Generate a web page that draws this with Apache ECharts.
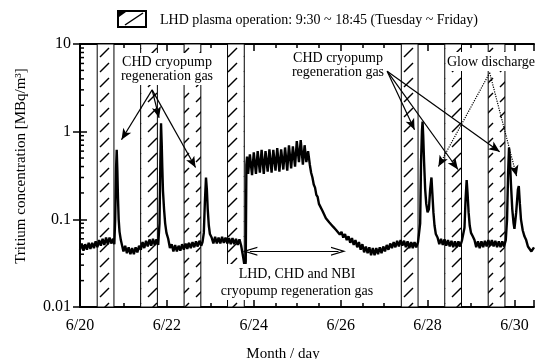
<!DOCTYPE html>
<html>
<head>
<meta charset="utf-8">
<script src="https://cdn.jsdelivr.net/npm/echarts@6/dist/echarts.min.js"></script>
<style>
  html, body { margin: 0; padding: 0; background: #fff; }
  #chart { width: 537px; height: 359px; }
</style>
</head>
<body>
<div id="chart"></div>
<script>
  // days counted from 6/20 00:00
  const plasmaDays = [0, 1, 2, 3, 7, 8, 9]; // Tuesday ~ Friday
  const plasmaHours = [9.5, 18.75];         // 9:30 ~ 18:45
  const xLabelDays = [0, 2, 4, 6, 8, 10];
  const yMinorTicks = [0.02, 0.03, 0.04, 0.05, 0.06, 0.07, 0.08, 0.09,
    0.2, 0.3, 0.4, 0.5, 0.6, 0.7, 0.8, 0.9, 2, 3, 4, 5, 6, 7, 8, 9];

  const trace = [
    [0.00, 0.045], [0.04, 0.053], [0.08, 0.044], [0.12, 0.052], [0.16, 0.045], [0.20, 0.054], [0.24, 0.046],
    [0.28, 0.054], [0.32, 0.047], [0.36, 0.056], [0.40, 0.048], [0.44, 0.058], [0.48, 0.050], [0.52, 0.060],
    [0.56, 0.051], [0.60, 0.062], [0.64, 0.052], [0.68, 0.062], [0.72, 0.053], [0.76, 0.060], [0.79, 0.052],
    [0.81, 0.10], [0.83, 0.38], [0.845, 0.62], [0.86, 0.36], [0.875, 0.17], [0.89, 0.10], [0.91, 0.072],
    [0.94, 0.058], [0.97, 0.050], [1.00, 0.043], [1.04, 0.050], [1.08, 0.041], [1.12, 0.048], [1.16, 0.040],
    [1.20, 0.047], [1.24, 0.040], [1.28, 0.048], [1.32, 0.042], [1.36, 0.050], [1.40, 0.045], [1.44, 0.055],
    [1.48, 0.047], [1.52, 0.057], [1.56, 0.049], [1.60, 0.059], [1.64, 0.050], [1.68, 0.060], [1.72, 0.051],
    [1.76, 0.059], [1.80, 0.051],
    [1.83, 0.09], [1.85, 0.45], [1.865, 1.25], [1.88, 0.75], [1.895, 0.38], [1.91, 0.21], [1.935, 0.13],
    [1.96, 0.09], [1.99, 0.07], [2.03, 0.060], [2.07, 0.047], [2.11, 0.052], [2.15, 0.043], [2.19, 0.051],
    [2.23, 0.043], [2.27, 0.050], [2.31, 0.044], [2.35, 0.052], [2.39, 0.045], [2.43, 0.053], [2.47, 0.046],
    [2.51, 0.054], [2.55, 0.047], [2.59, 0.055], [2.63, 0.048], [2.67, 0.056], [2.71, 0.049], [2.75, 0.057],
    [2.79, 0.050], [2.82, 0.055],
    [2.85, 0.07], [2.875, 0.16], [2.90, 0.30], [2.92, 0.22], [2.94, 0.13], [2.965, 0.085], [2.99, 0.068],
    [3.03, 0.062], [3.07, 0.053], [3.11, 0.063], [3.15, 0.053], [3.19, 0.062], [3.23, 0.053], [3.27, 0.063],
    [3.31, 0.054], [3.35, 0.062], [3.39, 0.053], [3.43, 0.061], [3.47, 0.052], [3.51, 0.061], [3.55, 0.052],
    [3.59, 0.060], [3.63, 0.051], [3.67, 0.059], [3.71, 0.050], [3.74, 0.052], [3.76, 0.036], [3.78, 0.031],
    [3.80, 0.028], [3.815, 0.033],
    [3.83, 0.42], [3.845, 0.52], [3.87, 0.33], [3.91, 0.55], [3.96, 0.32], [4.00, 0.58], [4.05, 0.33],
    [4.09, 0.60], [4.14, 0.34], [4.18, 0.62], [4.23, 0.33], [4.27, 0.60], [4.32, 0.35], [4.36, 0.63],
    [4.41, 0.34], [4.45, 0.62], [4.50, 0.36], [4.54, 0.65], [4.59, 0.35], [4.63, 0.63], [4.68, 0.37],
    [4.72, 0.66], [4.77, 0.36], [4.81, 0.70], [4.86, 0.38], [4.90, 0.68], [4.95, 0.40], [4.99, 0.78],
    [5.04, 0.45], [5.08, 0.80], [5.13, 0.42], [5.17, 0.70], [5.21, 0.45], [5.25, 0.60],
    [5.29, 0.42], [5.32, 0.34], [5.35, 0.30], [5.38, 0.25], [5.41, 0.23], [5.44, 0.19], [5.47, 0.18],
    [5.50, 0.15], [5.54, 0.145], [5.58, 0.125], [5.62, 0.12], [5.66, 0.103], [5.70, 0.106], [5.74, 0.092],
    [5.78, 0.095], [5.82, 0.083], [5.86, 0.086], [5.90, 0.075], [5.94, 0.078], [5.98, 0.067], [6.02, 0.072],
    [6.06, 0.062], [6.10, 0.068], [6.14, 0.058], [6.18, 0.064], [6.22, 0.054], [6.26, 0.061], [6.30, 0.051],
    [6.34, 0.058], [6.38, 0.048], [6.42, 0.055], [6.46, 0.045], [6.50, 0.052], [6.54, 0.042], [6.58, 0.049],
    [6.62, 0.041], [6.66, 0.048], [6.70, 0.039], [6.74, 0.047], [6.78, 0.039], [6.82, 0.047], [6.86, 0.040],
    [6.90, 0.048], [6.94, 0.041], [6.98, 0.049], [7.02, 0.043], [7.06, 0.051], [7.10, 0.045], [7.14, 0.053],
    [7.18, 0.047], [7.22, 0.055], [7.26, 0.048], [7.30, 0.057], [7.34, 0.049], [7.38, 0.058], [7.42, 0.050],
    [7.46, 0.057], [7.50, 0.048], [7.54, 0.056], [7.58, 0.047], [7.62, 0.055], [7.66, 0.047], [7.70, 0.055],
    [7.74, 0.048], [7.78, 0.055], [7.81, 0.055],
    [7.83, 0.09], [7.85, 0.45], [7.87, 1.0], [7.885, 1.3], [7.90, 0.9], [7.92, 0.45], [7.945, 0.22],
    [7.97, 0.15], [8.00, 0.12], [8.03, 0.13], [8.06, 0.22], [8.09, 0.30], [8.11, 0.2], [8.135, 0.12],
    [8.16, 0.085], [8.19, 0.068], [8.23, 0.062], [8.27, 0.052], [8.31, 0.060], [8.35, 0.051], [8.39, 0.059],
    [8.43, 0.050], [8.47, 0.058], [8.51, 0.049], [8.55, 0.057], [8.59, 0.048], [8.63, 0.056], [8.67, 0.048],
    [8.71, 0.056], [8.75, 0.049], [8.79, 0.057], [8.83, 0.056],
    [8.85, 0.08], [8.875, 0.17], [8.90, 0.28], [8.92, 0.20], [8.945, 0.12], [8.97, 0.085], [9.00, 0.07],
    [9.04, 0.064], [9.08, 0.058], [9.12, 0.048], [9.16, 0.056], [9.20, 0.047], [9.24, 0.056], [9.28, 0.048],
    [9.32, 0.057], [9.36, 0.049], [9.40, 0.058], [9.44, 0.050], [9.48, 0.058], [9.52, 0.049], [9.56, 0.057],
    [9.60, 0.048], [9.64, 0.056], [9.68, 0.048], [9.72, 0.056], [9.76, 0.049], [9.80, 0.058],
    [9.83, 0.10], [9.855, 0.35], [9.875, 0.66], [9.895, 0.50], [9.92, 0.25], [9.95, 0.13], [9.98, 0.09],
    [10.00, 0.078], [10.04, 0.12], [10.08, 0.22], [10.10, 0.24], [10.125, 0.15], [10.15, 0.10],
    [10.19, 0.075], [10.23, 0.064], [10.27, 0.058], [10.31, 0.049], [10.35, 0.050], [10.39, 0.043], [10.45, 0.048]
  ];

  // arrows: [fromDay, fromValue, toDay, toValue]
  const leftCryoArrows = [[1.66, 3.0, 0.955, 0.81], [1.66, 3.0, 1.82, 1.44], [1.66, 3.0, 2.66, 0.39]];
  const rightCryoArrows = [[7.07, 4.9, 7.70, 1.05], [7.07, 4.9, 8.70, 0.37], [7.07, 4.9, 9.66, 0.59]];
  const glowArrows = [[9.43, 4.7, 8.25, 0.40], [9.43, 4.7, 10.05, 0.31]];
  const regenSpan = [3.91, 5.95, 0.0433];

  const FONT = '"Liberation Serif", "Times New Roman", serif';
  const chevron = 'path://M0,10 L5,0 L10,10 L8.6,10 L5,2.8 L1.4,10 Z';

  function hatchPattern() {
    const c = document.createElement('canvas');
    c.width = 16;
    c.height = 15;
    const g = c.getContext('2d');
    g.fillStyle = '#fff';
    g.fillRect(0, 0, 16, 15);
    g.strokeStyle = '#000';
    g.lineWidth = 1.5;
    g.beginPath();
    g.moveTo(4, 12);
    g.lineTo(13, 3);
    g.stroke();
    return c;
  }
  const hatch = { image: hatchPattern(), repeat: 'repeat' };

  function arrowLines(list, head) {
    return list.map((a) => [
      { coord: [a[0], a[1]], symbol: 'none' },
      { coord: [a[2], a[3]], symbol: head, symbolSize: [7, 11] }
    ]);
  }

  const chart = echarts.init(document.getElementById('chart'));

  const baseX = {
    type: 'value',
    min: 0,
    max: 10.45,
    splitLine: { show: false },
    axisLabel: { show: false }
  };

  function text(x, y, str, size) {
    return {
      type: 'text',
      z: 101,
      style: { x: x, y: y, text: str, font: (size || 14) + 'px ' + FONT, fill: '#000', align: 'center', verticalAlign: 'middle' }
    };
  }
  function whiteBox(x, y, w, h) {
    return { type: 'rect', z: 100, shape: { x: x, y: y, width: w, height: h }, style: { fill: '#fff' } };
  }

  chart.setOption({
    animation: false,
    grid: { left: 80, right: -3, top: 44, bottom: 52 },
    xAxis: [
      Object.assign({}, baseX, {
        position: 'bottom',
        interval: 0.5,
        axisLine: { lineStyle: { color: '#000', width: 2 } },
        axisTick: { inside: true, length: 4, lineStyle: { color: '#000', width: 1.5 } },
        axisLabel: {
          show: true,
          margin: 11,
          color: '#000',
          fontFamily: FONT,
          fontSize: 16,
          formatter: (v) => (xLabelDays.indexOf(v) >= 0 ? '6/' + (20 + v) : '')
        }
      }),
      Object.assign({}, baseX, {
        position: 'bottom',
        interval: 2,
        axisLine: { show: false },
        axisTick: { inside: true, length: 7, lineStyle: { color: '#000', width: 1.5 } }
      }),
      Object.assign({}, baseX, {
        position: 'top',
        interval: 0.5,
        axisLine: { lineStyle: { color: '#000', width: 2 } },
        axisTick: { inside: true, length: 4, lineStyle: { color: '#000', width: 1.5 } }
      }),
      Object.assign({}, baseX, {
        position: 'top',
        interval: 2,
        axisLine: { show: false },
        axisTick: { inside: true, length: 7, lineStyle: { color: '#000', width: 1.5 } }
      })
    ],
    yAxis: [
      {
        type: 'log',
        logBase: 10,
        min: 0.01,
        max: 10,
        position: 'left',
        splitLine: { show: false },
        axisLine: { show: true, lineStyle: { color: '#000', width: 2 } },
        axisTick: { inside: true, length: 7, lineStyle: { color: '#000', width: 1.5 } },
        axisLabel: { margin: 9, color: '#000', fontFamily: FONT, fontSize: 16 }
      },
      {
        type: 'log',
        logBase: 10,
        min: 0.01,
        max: 10,
        position: 'right',
        splitLine: { show: false },
        axisLine: { show: true, lineStyle: { color: '#000', width: 2 } },
        axisTick: { inside: true, length: 7, lineStyle: { color: '#000', width: 1.5 } },
        axisLabel: { show: false }
      }
    ],
    series: [
      {
        type: 'line',
        data: trace,
        showSymbol: false,
        silent: true,
        z: 3,
        lineStyle: { color: '#000', width: 2.4 },
        markArea: {
          silent: true,
          itemStyle: { color: hatch, borderColor: '#000', borderWidth: 1 },
          data: plasmaDays.map((d) => [
            { xAxis: d + plasmaHours[0] / 24 },
            { xAxis: d + plasmaHours[1] / 24 }
          ])
        }
      },
      {
        type: 'custom',
        silent: true,
        z: 4,
        data: yMinorTicks.map((v) => [0, v]),
        renderItem: function (params, api) {
          const p = api.coord([api.value(0), api.value(1)]);
          return {
            type: 'line',
            shape: { x1: p[0], y1: p[1], x2: p[0] + 4, y2: p[1] },
            style: { stroke: '#000', lineWidth: 1.5 }
          };
        }
      },
      {
        type: 'line',
        data: [],
        z: 120,
        markLine: {
          silent: true,
          animation: false,
          label: { show: false },
          lineStyle: { color: '#000', width: 1.2, type: 'solid' },
          data: arrowLines(leftCryoArrows, 'arrow')
            .concat(arrowLines(rightCryoArrows, 'arrow'))
            .concat([[
              { coord: [regenSpan[0], regenSpan[2]], symbol: chevron, symbolSize: [9, 15] },
              { coord: [regenSpan[1], regenSpan[2]], symbol: chevron, symbolSize: [9, 15] }
            ]])
        }
      },
      {
        type: 'line',
        data: [],
        z: 120,
        markLine: {
          silent: true,
          animation: false,
          label: { show: false },
          lineStyle: { color: '#000', width: 1.2, type: 'dotted' },
          data: arrowLines(glowArrows, 'arrow')
        }
      }
    ],
    graphic: [
      // legend
      { type: 'rect', z: 100, shape: { x: 118, y: 11, width: 28, height: 16 }, style: { fill: '#fff', stroke: '#000', lineWidth: 2 } },
      { type: 'line', z: 101, shape: { x1: 125, y1: 25, x2: 143, y2: 13 }, style: { stroke: '#000', lineWidth: 1.5 } },
      { type: 'polygon', z: 101, shape: { points: [[119, 12], [126, 12], [119, 17]] }, style: { fill: '#000' } },
      { type: 'text', z: 101, style: { x: 160, y: 20, text: 'LHD plasma operation: 9:30 ~ 18:45 (Tuesday ~ Friday)', font: '14px ' + FONT, fill: '#000', verticalAlign: 'middle' } },
      // left annotation
      whiteBox(117, 53, 99, 32),
      text(167, 62, 'CHD cryopump'),
      text(167, 76, 'regeneration gas'),
      // right annotation
      text(338, 58, 'CHD cryopump'),
      text(338, 72, 'regeneration gas'),
      // glow discharge
      whiteBox(446, 52, 92, 19),
      text(491, 62, 'Glow discharge'),
      // middle annotation
      whiteBox(220, 264, 155, 36),
      text(297, 274, 'LHD, CHD and NBI'),
      text(297, 291, 'cryopump regeneration gas'),
      // axis titles
      { type: 'text', z: 101, x: 21, y: 166, rotation: Math.PI / 2, style: { x: 0, y: 0, text: 'Tritium concentration [MBq/m³]', font: '15px ' + FONT, fill: '#000', align: 'center', verticalAlign: 'middle' } },
      text(283, 354, 'Month / day', 15)
    ]
  });
</script>
</body>
</html>
